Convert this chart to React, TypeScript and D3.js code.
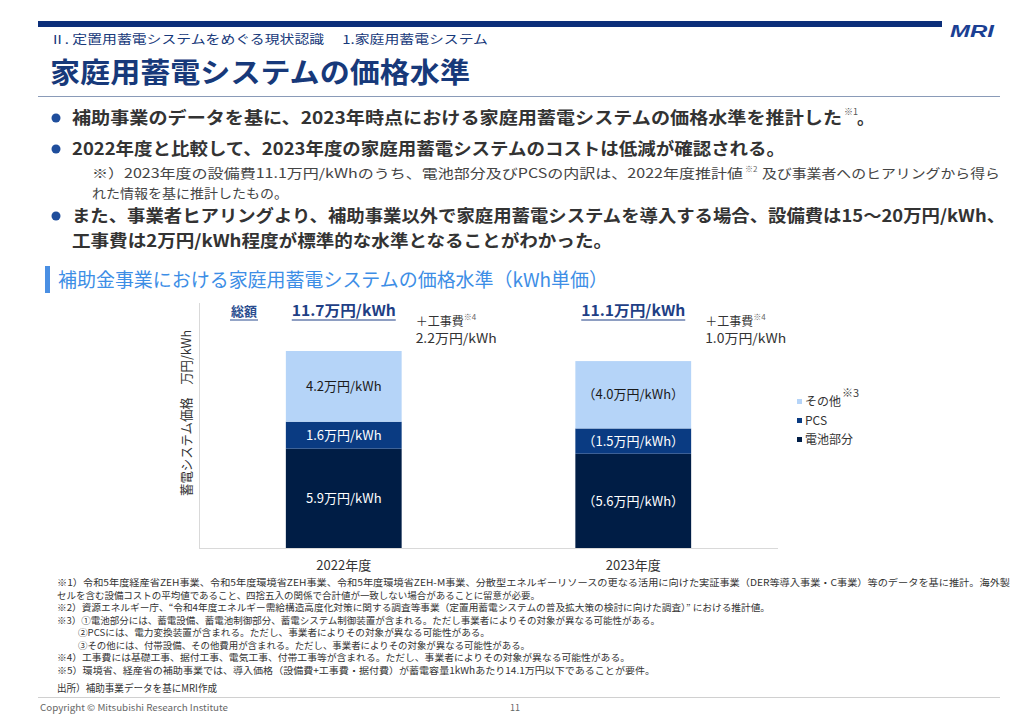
import React from "react";
import * as d3 from "d3";

const years = ["2022年度", "2023年度"];
const battery = [5.9, 5.6];
const pcs = [1.6, 1.5];
const other = [4.2, 4.0];
const totals = [11.7, 11.1];
const construction = [2.2, 1.0];
const parenLabels = [false, true];
const seriesNames = ["その他", "PCS", "電池部分"];

const JP = "'Noto Sans CJK JP', 'Noto Sans', sans-serif";
const NAVY = "#17397a";
const C_BATT = "#001d45";
const C_PCS = "#0a3b82";
const C_OTHER = "#b5d4f8";

const footnotes: [string, number, number, number][] = [
  ["※1）令和5年度経産省ZEH事業、令和5年度環境省ZEH事業、令和5年度環境省ZEH-M事業、分散型エネルギーリソースの更なる活用に向けた実証事業（DER等導入事業・C事業）等のデータを基に推計。海外製", 57, 582, 953],
  ["セルを含む設備コストの平均値であること、四捨五入の関係で合計値が一致しない場合があることに留意が必要。", 57, 594.5, 483],
  ["※2）資源エネルギー庁、“令和4年度エネルギー需給構造高度化対策に関する調査等事業（定置用蓄電システムの普及拡大策の検討に向けた調査）” における推計値。", 57, 607, 713],
  ["※3）①電池部分には、蓄電設備、蓄電池制御部分、蓄電システム制御装置が含まれる。ただし事業者によりその対象が異なる可能性がある。", 57, 619.5, 603],
  ["②PCSには、電力変換装置が含まれる。ただし、事業者によりその対象が異なる可能性がある。", 78, 632, 412],
  ["③その他には、付帯設備、その他費用が含まれる。ただし、事業者によりその対象が異なる可能性がある。", 78, 644.5, 452],
  ["※4）工事費には基礎工事、据付工事、電気工事、付帯工事等が含まれる。ただし、事業者によりその対象が異なる可能性がある。", 57, 657, 573],
  ["※5）環境省、経産省の補助事業では、導入価格（設備費+工事費・据付費）が蓄電容量1kWhあたり14.1万円以下であることが要件。", 57, 669.5, 598],
];

export default function App() {
  const x = d3.scaleBand<string>().domain(years).range([199, 778]).paddingInner(0.6).paddingOuter(0.3);
  const y = d3.scaleLinear().domain([0, 14.55]).range([548, 303]);
  const bw = x.bandwidth();

  const segs = years.flatMap((yr, i) => {
    const b0 = 0, b1 = battery[i], p1 = b1 + pcs[i], o1 = p1 + other[i];
    const wrap = (v: number) => (parenLabels[i] ? `（${v.toFixed(1)}万円/kWh）` : `${v.toFixed(1)}万円/kWh`);
    return [
      { yr, lo: b0, hi: b1, color: C_BATT, label: wrap(battery[i]), tc: "#ffffff" },
      { yr, lo: b1, hi: p1, color: C_PCS, label: wrap(pcs[i]), tc: "#ffffff" },
      { yr, lo: p1, hi: o1, color: C_OTHER, label: wrap(other[i]), tc: "#1a1a1a" },
    ];
  });

  const legendColors = [C_OTHER, C_PCS, C_BATT];
  const legendY = [402, 421, 440];

  return (
    <svg width={1024} height={725} style={{ position: "absolute", left: 0, top: 0, background: "#fff" }} fontFamily={JP}>
      {/* header */}
      <rect x={38} y={21} width={904} height={6} fill="#0c2f7a" />
      <text x={950} y={37} fontFamily="'Liberation Sans', Arial, sans-serif" fontWeight={700} fontStyle="italic" fontSize={17} fill="#1b3f93" textLength={44} lengthAdjust="spacingAndGlyphs">MRI</text>
      <text x={50} y={44} fontSize={12} fill={NAVY} textLength={438} lengthAdjust="spacingAndGlyphs">Ⅱ. 定置用蓄電システムをめぐる現状認識　 1.家庭用蓄電システム</text>
      <text x={50} y={83} fontSize={28} fontWeight={700} fill={NAVY} textLength={420} lengthAdjust="spacingAndGlyphs">家庭用蓄電システムの価格水準</text>
      <line x1={38} x2={1000} y1={96.5} y2={96.5} stroke="#8a9bb8" strokeWidth={1} />

      {/* bullets */}
      {[118, 149, 216].map((cy) => (
        <circle key={cy} cx={56} cy={cy} r={4.5} fill="#1f4e9c" />
      ))}
      <text x={72} y={124} fontSize={17} fontWeight={700} fill="#333" textLength={770} lengthAdjust="spacingAndGlyphs">補助事業のデータを基に、2023年時点における家庭用蓄電システムの価格水準を推計した</text>
      <text x={844} y={115} fontSize={9} fill="#555">※1</text>
      <text x={857} y={124} fontSize={17} fontWeight={700} fill="#333">。</text>
      <text x={72} y={155} fontSize={17} fontWeight={700} fill="#333" textLength={713} lengthAdjust="spacingAndGlyphs">2022年度と比較して、2023年度の家庭用蓄電システムのコストは低減が確認される。</text>
      <text x={92} y={178} fontSize={13} fill="#444" textLength={651} lengthAdjust="spacingAndGlyphs">※）2023年度の設備費11.1万円/kWhのうち、電池部分及びPCSの内訳は、2022年度推計値</text>
      <text x={745} y={172} fontSize={8} fill="#666">※2</text>
      <text x={762} y={178} fontSize={13} fill="#444" textLength={238} lengthAdjust="spacingAndGlyphs">及び事業者へのヒアリングから得ら</text>
      <text x={92} y={198} fontSize={13} fill="#444" textLength={196} lengthAdjust="spacingAndGlyphs">れた情報を基に推計したもの。</text>
      <text x={72} y={222} fontSize={17} fontWeight={700} fill="#333" textLength={933} lengthAdjust="spacingAndGlyphs">また、事業者ヒアリングより、補助事業以外で家庭用蓄電システムを導入する場合、設備費は15～20万円/kWh、</text>
      <text x={72} y={247} fontSize={17} fontWeight={700} fill="#333" textLength={540} lengthAdjust="spacingAndGlyphs">工事費は2万円/kWh程度が標準的な水準となることがわかった。</text>

      {/* section heading */}
      <rect x={45} y={266} width={5} height={27} fill="#4a8fe3" />
      <text x={58} y={287} fontSize={19} fill="#3d8ee6" textLength={550} lengthAdjust="spacingAndGlyphs">補助金事業における家庭用蓄電システムの価格水準（kWh単価）</text>

      {/* axes */}
      <line x1={199.5} x2={199.5} y1={y.range()[1]} y2={y(0)} stroke="#d9d9d9" />
      <line x1={199} x2={778} y1={y(0) + 0.5} y2={y(0) + 0.5} stroke="#d9d9d9" />
      <text transform={`translate(191,413) rotate(-90)`} textAnchor="middle" fontSize={13} fill="#333" textLength={166} lengthAdjust="spacingAndGlyphs">蓄電システム価格　万円/kWh</text>

      {/* bars */}
      {segs.map((s, k) => (
        <g key={k}>
          <rect x={x(s.yr)!} y={y(s.hi)} width={bw} height={y(s.lo) - y(s.hi)} fill={s.color} />
          <text x={x(s.yr)! + bw / 2} y={(y(s.lo) + y(s.hi)) / 2} dy="0.36em" textAnchor="middle" fontSize={13} fill={s.tc}>{s.label}</text>
        </g>
      ))}

      {/* x labels */}
      {years.map((yr) => (
        <text key={yr} x={x(yr)! + bw / 2} y={570} textAnchor="middle" fontSize={13} fill="#333">{yr}</text>
      ))}

      {/* totals */}
      <text x={244} y={316} textAnchor="middle" fontSize={13} fontWeight={700} fill="#2a4d8f">総額</text>
      <line x1={230} x2={258} y1={320} y2={320} stroke="#2a4d8f" strokeWidth={1} />
      {years.map((yr, i) => {
        const cx = x(yr)! + bw / 2;
        return (
          <g key={"t" + yr}>
            <text x={cx} y={316} textAnchor="middle" fontSize={15} fontWeight={700} fill="#1f3f85" textLength={104} lengthAdjust="spacingAndGlyphs">{`${totals[i].toFixed(1)}万円/kWh`}</text>
            <line x1={cx - 52} x2={cx + 52} y1={320} y2={320} stroke="#1f3f85" strokeWidth={1} />
            <text x={x(yr)! + bw + 14} y={326} fontSize={12} fill="#333">＋工事費</text>
            <text x={x(yr)! + bw + 62} y={320} fontSize={8} fill="#666">※4</text>
            <text x={x(yr)! + bw + 14} y={343} fontSize={13} fill="#333" textLength={81} lengthAdjust="spacingAndGlyphs">{`${construction[i].toFixed(1)}万円/kWh`}</text>
          </g>
        );
      })}

      {/* legend */}
      {seriesNames.map((n, i) => (
        <g key={n}>
          <rect x={797} y={legendY[i] - 3} width={5} height={5} fill={legendColors[i]} />
          <text x={805} y={legendY[i]} dy="0.36em" fontSize={12} fill="#333">{n}</text>
        </g>
      ))}
      <text x={842} y={397} fontSize={11} fill="#444">※3</text>

      {/* footnotes */}
      {footnotes.map(([t, fx, fy, tl], i) => (
        <text key={i} x={fx} y={fy + 4} fontSize={9.5} fill="#333" textLength={tl} lengthAdjust="spacingAndGlyphs">{t}</text>
      ))}
      <text x={57} y={692} fontSize={10} fill="#333" textLength={160} lengthAdjust="spacingAndGlyphs">出所）補助事業データを基にMRI作成</text>
      <line x1={38} x2={1000} y1={697.5} y2={697.5} stroke="#d0d0d0" />
      <text x={40} y={711} fontSize={9} fill="#666" textLength={188} lengthAdjust="spacingAndGlyphs">Copyright © Mitsubishi Research Institute</text>
      <text x={510} y={711} fontSize={9} fill="#666">11</text>
    </svg>
  );
}
